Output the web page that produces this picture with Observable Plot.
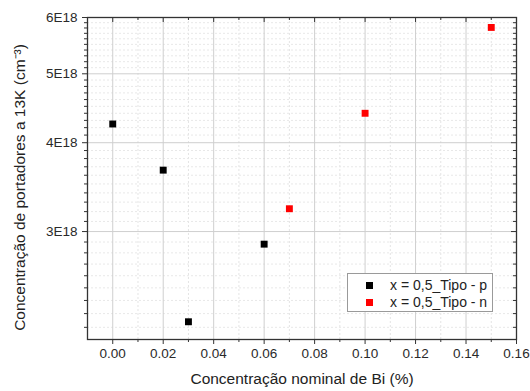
<!DOCTYPE html>
<html>
<head>
<meta charset="utf-8">
<script src="https://cdn.jsdelivr.net/npm/d3@7"></script>
<script src="https://cdn.jsdelivr.net/npm/@observablehq/plot@0.6"></script>
<style>
  html, body { margin: 0; padding: 0; background: #fff; }
  #wrap { position: relative; width: 530px; height: 391px; font-family: "Liberation Sans", Arial, sans-serif; }
  #wrap svg { font-family: "Liberation Sans", Arial, sans-serif; }
  g[aria-label="x-axis tick label"] text, g[aria-label="y-axis tick label"] text { font-size: 13.5px; fill: #2a2a2a; }
  g[aria-label="x-axis label"] text, g[aria-label="y-axis label"] text { font-size: 15.5px; fill: #222; }
  #legend { position: absolute; left: 347px; top: 273px; width: 146px; height: 39px; border: 1px solid #9a9a9a; background: #fff; box-sizing: border-box; font-size: 14px; color: #222; }
  #legend .row { position: absolute; left: 0; height: 17px; line-height: 17px; white-space: nowrap; }
  #legend .sw { position: absolute; left: 18px; top: 5px; width: 7px; height: 7px; }
  #legend .lb { position: absolute; left: 42px; top: 0; }
</style>
</head>
<body>
<div id="wrap"></div>
<script>
// ---- data ----
const xTipoP = [0.00, 0.02, 0.03, 0.06];
const yTipoP = [4.25e18, 3.66e18, 2.24e18, 2.88e18];
const xTipoN = [0.07, 0.10, 0.15];
const yTipoN = [3.23e18, 4.40e18, 5.81e18];
const seriesNames = ["x = 0,5_Tipo - p", "x = 0,5_Tipo - n"];
const seriesColors = ["#000000", "#ff0000"];
const xTicks = [0, 0.02, 0.04, 0.06, 0.08, 0.10, 0.12, 0.14, 0.16];
const xMinorTicks = [0.01, 0.03, 0.05, 0.07, 0.09, 0.11, 0.13, 0.15];
const yTicks = [3e18, 4e18, 5e18, 6e18];
const yTickLabels = ["3E18", "4E18", "5E18", "6E18"];
const yMinorTicks = d3.range(22, 60).filter(k => k % 10 !== 0).map(k => k * 1e17);
const xLabel = "Concentração nominal de Bi (%)";
const yLabel = "Concentração de portadores a 13K (cm⁻³)";

const data = [
  ...xTipoP.map((x, i) => ({x, y: yTipoP[i], s: seriesNames[0]})),
  ...xTipoN.map((x, i) => ({x, y: yTipoN[i], s: seriesNames[1]}))
];

const W = 530, H = 391, mL = 87, mR = 14, mT = 17, mB = 52;
const fw = W - mL - mR, fh = H - mT - mB;
const axisColor = "#333";

const chart = Plot.plot({
  width: W, height: H,
  marginLeft: mL, marginRight: mR, marginTop: mT, marginBottom: mB,
  style: {background: "#fff", color: "#222", fontSize: "12px"},
  x: {domain: [-0.01, 0.16]},
  y: {type: "log", domain: [2.115e18, 6e18]},
  color: {domain: seriesNames, range: seriesColors},
  marks: [
    Plot.gridX(xMinorTicks, {stroke: "#e4e4e4", strokeOpacity: 1, strokeDasharray: "2,2"}),
    Plot.gridY(yMinorTicks, {stroke: "#e8e8e8", strokeOpacity: 1, strokeDasharray: "2,2"}),
    Plot.gridX(xTicks, {stroke: "#cfcfcf", strokeOpacity: 1}),
    Plot.gridY(yTicks, {stroke: "#cfcfcf", strokeOpacity: 1}),
    Plot.axisX(xTicks, {anchor: "bottom", tickSize: 5, tickPadding: 4, stroke: axisColor,
      tickFormat: d => d.toFixed(2), label: xLabel, labelAnchor: "center", labelArrow: "none", labelOffset: 44}),
    Plot.axisX(xMinorTicks, {anchor: "bottom", tickSize: 3, stroke: axisColor, tickFormat: () => "", label: null}),
    Plot.axisY(yTicks, {anchor: "left", tickSize: 5, tickPadding: 5, stroke: axisColor,
      tickFormat: d => yTickLabels[yTicks.indexOf(d)], label: yLabel, labelAnchor: "center", labelArrow: "none", labelOffset: 74}),
    Plot.axisY(yMinorTicks, {anchor: "left", tickSize: 3, stroke: axisColor, tickFormat: () => "", label: null}),
    // mirrored inward ticks on top and right
    Plot.ruleX(xTicks, {stroke: axisColor, insetBottom: fh - 5}),
    Plot.ruleX(xMinorTicks, {stroke: axisColor, insetBottom: fh - 3}),
    Plot.ruleY(yTicks, {stroke: axisColor, insetLeft: fw - 5}),
    Plot.ruleY(yMinorTicks, {stroke: axisColor, insetLeft: fw - 3}),
    Plot.frame({stroke: "#333", strokeWidth: 1.3}),
    Plot.dot(data, {x: "x", y: "y", fill: "s", symbol: "square", r: 3.9, stroke: "none"})
  ]
});

// shift the y-axis title slightly downward, as in the reference
const yl = chart.querySelector('g[aria-label="y-axis label"]');
if (yl) yl.setAttribute("transform", ((yl.getAttribute("transform") || "") + " translate(0,9)").trim());

const wrap = document.getElementById("wrap");
wrap.appendChild(chart);

// legend (HTML overlay)
const legend = document.createElement("div");
legend.id = "legend";
seriesNames.forEach((name, i) => {
  const row = document.createElement("div");
  row.className = "row";
  row.style.top = (3 + i * 17) + "px";
  row.style.width = "100%";
  const sw = document.createElement("span");
  sw.className = "sw";
  sw.style.background = seriesColors[i];
  const lb = document.createElement("span");
  lb.className = "lb";
  lb.textContent = name;
  row.appendChild(sw); row.appendChild(lb);
  legend.appendChild(row);
});
wrap.appendChild(legend);
</script>
</body>
</html>
